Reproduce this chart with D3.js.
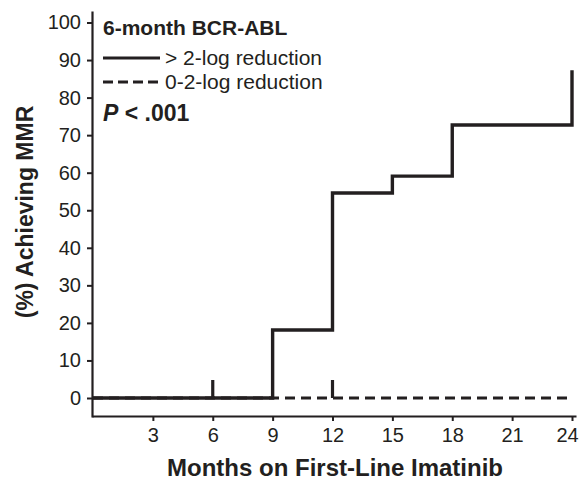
<!DOCTYPE html>
<html>
<head>
<meta charset="utf-8">
<script src="https://cdn.jsdelivr.net/npm/d3@7"></script>
<style>
  body { margin: 0; background: #fff; }
  svg { font-family: "Liberation Sans", Arial, sans-serif; }
</style>
</head>
<body>
<svg id="chart" width="582" height="482"></svg>
<script>
// data
const highMonths = [0, 9, 12, 15, 18, 24];
const highPct = [0, 18.1, 54.6, 59.1, 72.7, 87.3];
const lowMonths = [0, 23.8];
const lowPct = [0, 0];
const censorHigh = [6];
const censorLow = [12];
const xTicks = [3, 6, 9, 12, 15, 18, 21, 24];
const yTicks = [0, 10, 20, 30, 40, 50, 60, 70, 80, 90, 100];

const ink = "#231f20";
const svg = d3.select("#chart");

const x = d3.scaleLinear().domain([0, 24]).range([93, 572]);
const y = d3.scaleLinear().domain([0, 100]).range([398, 22.5]);

// axes drawn a little past the data range, like the original
const xAxisScale = x.copy().domain([x.invert(92), x.invert(576)]).range([92, 576]);
const yAxisScale = y.copy().domain([y.invert(417), y.invert(11)]).range([417, 11]);

const xAxis = svg.append("g")
    .attr("transform", "translate(0,416)")
    .call(d3.axisBottom(xAxisScale).tickValues(xTicks).tickSize(5).tickSizeOuter(0).tickPadding(7));
const yAxis = svg.append("g")
    .attr("transform", "translate(92,0)")
    .call(d3.axisLeft(yAxisScale).tickValues(yTicks).tickSize(5).tickSizeOuter(0).tickPadding(6));

[xAxis, yAxis].forEach((g) => {
    g.select(".domain").attr("stroke", ink).attr("stroke-width", 2.2);
    g.selectAll(".tick line").attr("stroke", ink).attr("stroke-width", 2);
    g.selectAll(".tick text")
        .attr("fill", ink)
        .style("font-size", "20px")
        .style("font-family", "'Liberation Sans', Arial, sans-serif");
});
// last label sits at the page edge in the original, nudge it inside
xAxis.selectAll(".tick text").filter((d) => d === 24).attr("dx", -5);

// curves
const line = d3.line()
    .x((d) => x(d[0]))
    .y((d) => y(d[1]))
    .curve(d3.curveStepAfter);

svg.append("path")
    .datum(lowMonths.map((m, i) => [m, lowPct[i]]))
    .attr("d", line)
    .attr("fill", "none")
    .attr("stroke", ink)
    .attr("stroke-width", 3.2)
    .attr("stroke-dasharray", "10,6");

svg.append("path")
    .datum(highMonths.map((m, i) => [m, highPct[i]]))
    .attr("d", line)
    .attr("fill", "none")
    .attr("stroke", ink)
    .attr("stroke-width", 3.4)
    .attr("stroke-linejoin", "miter");

// censoring marks
svg.selectAll(".censor")
    .data(censorHigh.concat(censorLow))
    .enter()
    .append("line")
    .attr("x1", (d) => x(d))
    .attr("x2", (d) => x(d))
    .attr("y1", y(0))
    .attr("y2", y(4.8))
    .attr("stroke", ink)
    .attr("stroke-width", 3.2);

// axis titles
svg.append("text")
    .attr("x", 335)
    .attr("y", 476)
    .attr("text-anchor", "middle")
    .attr("fill", ink)
    .style("font-size", "24px")
    .style("font-weight", "bold")
    .text("Months on First-Line Imatinib");

svg.append("text")
    .attr("transform", "translate(33,212) rotate(-90)")
    .attr("text-anchor", "middle")
    .attr("fill", ink)
    .style("font-size", "23px")
    .style("font-weight", "bold")
    .text("(%) Achieving MMR");

// legend
const legend = svg.append("g");
legend.append("text")
    .attr("x", 103)
    .attr("y", 35)
    .attr("fill", ink)
    .style("font-size", "21px")
    .style("font-weight", "bold")
    .text("6-month BCR-ABL");

const legendItems = [
    { label: "> 2-log reduction", dash: null, y: 58 },
    { label: "0-2-log reduction", dash: "10,5", y: 82 }
];
legendItems.forEach((item) => {
    legend.append("line")
        .attr("x1", 103)
        .attr("x2", 160)
        .attr("y1", item.y)
        .attr("y2", item.y)
        .attr("stroke", ink)
        .attr("stroke-width", 3.2)
        .attr("stroke-dasharray", item.dash);
    legend.append("text")
        .attr("x", 165)
        .attr("y", item.y + 6.5)
        .attr("fill", ink)
        .style("font-size", "21px")
        .text(item.label);
});

const pText = legend.append("text")
    .attr("x", 103)
    .attr("y", 121)
    .attr("fill", ink)
    .style("font-size", "23px")
    .style("font-weight", "bold");
pText.append("tspan").style("font-style", "italic").text("P");
pText.append("tspan").text(" < .001");
</script>
</body>
</html>
